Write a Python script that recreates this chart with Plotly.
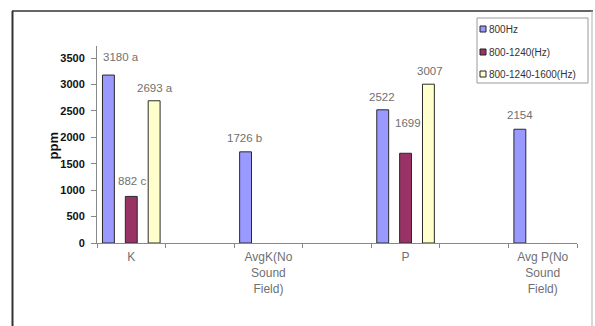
import plotly.graph_objects as go

# Categories on the x axis (blank slots separate the groups)
categories = ["K", " ", "AvgK(No<br>Sound<br>Field)", "  ", "P", "   ", "Avg P(No<br>Sound<br>Field)"]

# ppm values per treatment (None = no bar)
hz_800 = [3180, None, 1726, None, 2522, None, 2154]
hz_800_1240 = [882, None, None, None, 1699, None, None]
hz_800_1240_1600 = [2693, None, None, None, 3007, None, None]

# Significance letters attached to the value labels
letters_800 = ["a", None, "b", None, None, None, None]
letters_800_1240 = ["c", None, None, None, None, None, None]
letters_800_1240_1600 = ["a", None, None, None, None, None, None]

series_names = ["800Hz", "800-1240(Hz)", "800-1240-1600(Hz)"]
y_ticks = [0, 500, 1000, 1500, 2000, 2500, 3000, 3500]

colors = ["#9999FF", "#993366", "#FFFFCC"]
FONT = "Liberation Sans, Arial, sans-serif"

W, H = 595, 326
L, R, T, B = 97, 18, 46, 83
PW, PH = W - L - R, H - T - B


def px_x(px):
    return (px - L) / PW


def px_y(py):
    return (H - B - py) / PH


fig = go.Figure()
all_series = [hz_800, hz_800_1240, hz_800_1240_1600]
for name, vals, col in zip(series_names, all_series, colors):
    fig.add_trace(go.Bar(
        x=categories, y=vals, name=name,
        marker=dict(color=col, line=dict(color="#2a2a2a", width=1)),
        showlegend=False,
    ))

# Value labels above each bar
label_shift = {  # (series, category index): (xshift, yshift)
    (0, 0): (13, 18), (1, 0): (1, 15), (2, 0): (1, 13),
    (0, 2): (-1, 14), (0, 4): (-1, 13), (1, 4): (2, 30),
    (2, 4): (2, 13), (0, 6): (0, 14),
}
all_letters = [letters_800, letters_800_1240, letters_800_1240_1600]
offsets = [-1 / 3, 0, 1 / 3]
annotations = []
for s, (vals, lets) in enumerate(zip(all_series, all_letters)):
    for i, v in enumerate(vals):
        if v is None:
            continue
        txt = f"{v}" + (f" {lets[i]}" if lets[i] else "")
        xs, ys = label_shift.get((s, i), (0, 14))
        annotations.append(dict(
            x=i + offsets[s], y=v, xref="x", yref="y", text=txt,
            showarrow=False, xanchor="center", yanchor="middle",
            xshift=xs, yshift=ys,
            font=dict(family=FONT, size=11.5, color="#707070"),
        ))

# y axis title
annotations.append(dict(
    x=px_x(43), y=px_y(146), xref="paper", yref="paper", text="<b>ppm</b>",
    showarrow=False, textangle=-90,
    font=dict(family=FONT, size=13, color="#111111"),
))

# Legend box
shapes = [dict(type="rect", xref="paper", yref="paper",
               x0=px_x(477), x1=px_x(588), y0=px_y(83), y1=px_y(18),
               line=dict(color="#9a9a9a", width=1), fillcolor="white")]
legend_rows = [29, 52, 74]
for name, col, yy in zip(series_names, colors, legend_rows):
    shapes.append(dict(type="rect", xref="paper", yref="paper",
                       x0=px_x(480), x1=px_x(486), y0=px_y(yy + 3), y1=px_y(yy - 3),
                       line=dict(color="#222222", width=1), fillcolor=col))
    annotations.append(dict(
        x=px_x(487), y=px_y(yy), xref="paper", yref="paper", text=name,
        showarrow=False, xanchor="left", yanchor="middle",
        font=dict(family=FONT, size=10, color="#333333"),
    ))

# Chart frame
shapes.append(dict(type="line", xref="paper", yref="paper",
                   x0=px_x(12.5), x1=px_x(12.5), y0=px_y(11), y1=px_y(340),
                   line=dict(color="#333333", width=2)))
shapes.append(dict(type="line", xref="paper", yref="paper",
                   x0=px_x(12), x1=px_x(593), y0=px_y(11), y1=px_y(11),
                   line=dict(color="#333333", width=1.5)))
shapes.append(dict(type="line", xref="paper", yref="paper",
                   x0=px_x(592), x1=px_x(592), y0=px_y(11), y1=px_y(340),
                   line=dict(color="#b0b0b0", width=1)))

fig.update_layout(
    width=W, height=H,
    margin=dict(l=L, r=R, t=T, b=B, autoexpand=False),
    paper_bgcolor="white", plot_bgcolor="white",
    barmode="group", bargap=0, bargroupgap=0.48,
    annotations=annotations, shapes=shapes,
    font=dict(family=FONT),
)
fig.update_xaxes(
    type="category", categoryorder="array", categoryarray=categories,
    range=[-0.5, 6.5], tickson="boundaries", ticks="outside", ticklen=4,
    tickcolor="#888888", showline=True, linecolor="#888888", linewidth=1,
    showgrid=False, tickfont=dict(family=FONT, size=12, color="#707070"),
    ticklabelstandoff=3,
)
fig.update_yaxes(
    range=[0, 3730], tickvals=y_ticks, ticks="outside", ticklen=5,
    tickcolor="#888888", showline=True, linecolor="#888888", linewidth=1,
    showgrid=False, zeroline=False,
    tickfont=dict(family=FONT, size=11, color="#111111", weight="bold"),
    ticklabelstandoff=4,
)

fig.write_html("out.html")
